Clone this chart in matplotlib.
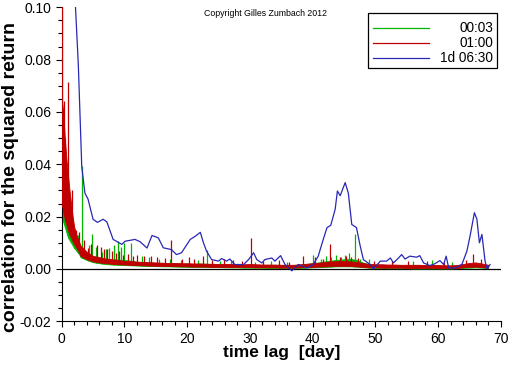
import numpy as np
import matplotlib

matplotlib.use("Agg")
import matplotlib.pyplot as plt
from matplotlib.patches import Rectangle
from matplotlib.ticker import FormatStrFormatter, MultipleLocator

plt.rcParams["font.family"] = ["Liberation Sans", "DejaVu Sans"]
plt.rcParams["axes.unicode_minus"] = False

# series labels and colours
labels = ["00:03", "01:00", "1d 06:30"]
colors = ["#00b400", "#c00000", "#2828b4"]

# the 00:03 and 01:00 curves are dense noise: kept as a low/high envelope
# (0.25 day steps up to 3 days, then 1 day) plus the spikes that stick out
env_lag = np.concatenate([np.arange(0, 3, 0.25), np.arange(3, 68.5, 1)])

green_high = [0.040, 0.036, 0.034, 0.030, 0.024, 0.020, 0.017, 0.015, 0.013, 0.012, 0.011, 0.0095,
              0.0085, 0.0060, 0.0047, 0.0042, 0.0038, 0.0037, 0.0036, 0.0034, 0.0032, 0.0027,
              0.0025, 0.0024, 0.0023, 0.0022, 0.0021, 0.0021, 0.0020, 0.0020, 0.0019, 0.0021,
              0.0020, 0.0018, 0.0017, 0.0017, 0.0017, 0.0016, 0.0016, 0.0016, 0.0015, 0.0015,
              0.0015, 0.0015, 0.0014, 0.0014, 0.0014, 0.0016, 0.0019, 0.0022, 0.0025, 0.0029,
              0.0032, 0.0035, 0.0037, 0.0038, 0.0035, 0.0025, 0.0018, 0.0016, 0.0016, 0.0015,
              0.0015, 0.0014, 0.0014, 0.0014, 0.0014, 0.0013, 0.0013, 0.0013, 0.0012, 0.0012,
              0.0013, 0.0015, 0.0017, 0.0017, 0.0015, 0.0013]
green_low = [0.020, 0.018, 0.016, 0.014, 0.012, 0.011, 0.010, 0.009, 0.008, 0.0072, 0.0065, 0.0058,
             0.0045, 0.0034, 0.0026, 0.0022, 0.0019, 0.0017, 0.0016, 0.0015, 0.0014, 0.0013,
             0.0012, 0.0011, 0.0011, 0.0010, 0.0010, 0.0009, 0.0009, 0.0008, 0.0008, 0.0008,
             0.0007, 0.0007, 0.0007, 0.0006, 0.0006, 0.0006, 0.0005, 0.0005, 0.0005, 0.0005,
             0.0004, 0.0004, 0.0004, 0.0004, 0.0004, 0.0004, 0.0005, 0.0006, 0.0007, 0.0008,
             0.0009, 0.0010, 0.0010, 0.0010, 0.0009, 0.0007, 0.0005, 0.0004, 0.0004, 0.0003,
             0.0003, 0.0003, 0.0003, 0.0002, 0.0002, 0.0002, 0.0002, 0.0002, 0.0002, 0.0002,
             0.0003, 0.0004, 0.0005, 0.0006, 0.0005, 0.0003]

red_high = [0.065, 0.060, 0.050, 0.042, 0.036, 0.030, 0.025, 0.020, 0.016, 0.014, 0.012, 0.0105,
            0.0090, 0.0065, 0.0050, 0.0045, 0.0040, 0.0037, 0.0034, 0.0031, 0.0030, 0.0028,
            0.0027, 0.0026, 0.0025, 0.0024, 0.0023, 0.0023, 0.0022, 0.0022, 0.0021, 0.0021,
            0.0020, 0.0020, 0.0019, 0.0019, 0.0019, 0.0018, 0.0018, 0.0019, 0.0018, 0.0017,
            0.0017, 0.0017, 0.0016, 0.0016, 0.0016, 0.0018, 0.0020, 0.0022, 0.0024, 0.0027,
            0.0029, 0.0030, 0.0030, 0.0029, 0.0027, 0.0023, 0.0019, 0.0018, 0.0018, 0.0017,
            0.0017, 0.0016, 0.0016, 0.0016, 0.0016, 0.0015, 0.0015, 0.0015, 0.0014, 0.0014,
            0.0015, 0.0019, 0.0023, 0.0025, 0.0021, 0.0016]
red_low = [0.025, 0.022, 0.019, 0.017, 0.015, 0.013, 0.012, 0.0105, 0.0095, 0.0085, 0.0075, 0.0065,
           0.0050, 0.0038, 0.0029, 0.0025, 0.0022, 0.0020, 0.0018, 0.0017, 0.0016, 0.0015,
           0.0014, 0.0013, 0.0012, 0.0012, 0.0011, 0.0011, 0.0010, 0.0010, 0.0009, 0.0009,
           0.0009, 0.0008, 0.0008, 0.0008, 0.0007, 0.0007, 0.0007, 0.0007, 0.0006, 0.0006,
           0.0006, 0.0006, 0.0005, 0.0005, 0.0005, 0.0006, 0.0007, 0.0008, 0.0009, 0.0010,
           0.0011, 0.0012, 0.0012, 0.0011, 0.0010, 0.0008, 0.0006, 0.0006, 0.0005, 0.0005,
           0.0005, 0.0005, 0.0004, 0.0004, 0.0004, 0.0004, 0.0004, 0.0003, 0.0003, 0.0003,
           0.0004, 0.0006, 0.0008, 0.0009, 0.0007, 0.0005]

green_spike_x = [2.0, 2.6, 3.2, 4.3, 4.9, 5.4, 6.4, 7.0, 7.6, 8.4, 8.9, 9.5, 10.0, 11.05,
                 12.8, 13.9, 15.5, 17.2, 19.0, 21.8, 23.1, 25.2, 27.0, 30.8, 33.3, 36.0,
                 40.0, 41.3, 42.2, 43.0, 43.7, 44.6, 45.2, 45.8, 46.8, 47.6, 49.0, 56.0,
                 59.0, 62.3]
green_spike_y = [0.016, 0.013, 0.0395, 0.009, 0.0132, 0.0085, 0.0065, 0.0075, 0.008, 0.0093,
                 0.0106, 0.0085, 0.010, 0.010, 0.005, 0.0045, 0.004, 0.004, 0.0035, 0.0036,
                 0.0074, 0.003, 0.003, 0.0028, 0.003, 0.0025, 0.0055, 0.004, 0.005, 0.0045,
                 0.0055, 0.0045, 0.0052, 0.006, 0.0132, 0.004, 0.004, 0.003, 0.0035, 0.0025]
red_spike_x = [0.05, 0.15, 0.35, 0.6, 1.05, 1.6, 2.3, 2.8, 3.6, 4.2, 4.7, 5.6, 6.2, 6.8,
               7.3, 8.1, 8.6, 9.1, 9.7, 10.6, 11.3, 12.0, 13.1, 14.2, 15.2, 16.4, 17.5,
               19.2, 20.3, 21.1, 22.6, 24.0, 25.8, 27.3, 28.8, 30.2, 32.1, 34.6, 36.2,
               38.5, 40.4, 41.6, 42.7, 44.3, 45.3, 46.1, 47.2, 49.8, 52.7, 55.2, 58.3,
               61.0, 64.4, 65.6, 66.8]
red_spike_y = [0.105, 0.061, 0.064, 0.050, 0.0715, 0.030, 0.015, 0.014, 0.011, 0.008,
               0.0095, 0.009, 0.0085, 0.0075, 0.0075, 0.0068, 0.0062, 0.007, 0.0055, 0.0058,
               0.005, 0.0055, 0.0048, 0.005, 0.0046, 0.0042, 0.0109, 0.004, 0.0045, 0.004,
               0.005, 0.0036, 0.004, 0.0035, 0.0032, 0.012, 0.0032, 0.0035, 0.0028, 0.0051,
               0.0045, 0.004, 0.0097, 0.0045, 0.005, 0.0046, 0.0042, 0.0032, 0.003, 0.003,
               0.003, 0.0028, 0.0035, 0.0059, 0.004]

blue_x = [1.8, 2.2, 2.65, 3.2, 3.7, 4.2, 5.0, 5.7, 6.6, 7.2,
          8.2, 9.6, 10.1, 11.7, 12.5, 13.6, 14.4, 15.4, 16.2, 17.5,
          18.3, 19.1, 20.5, 21.3, 22.1, 22.6, 23.1, 23.9, 25.0, 25.5,
          26.3, 26.8, 27.6, 29.0, 29.8, 30.6, 31.1, 31.9, 32.4, 33.5,
          34.0, 34.9, 35.6, 36.7, 37.7, 39.1, 40.1, 40.9, 41.7, 42.3,
          42.9, 43.6, 43.96, 44.4, 45.2, 45.7, 46.25, 47.0, 47.6, 48.1,
          49.2, 49.7, 50.8, 51.8, 52.4, 52.9, 53.7, 54.2, 54.75, 55.5,
          56.6, 57.1, 57.7, 58.7, 59.5, 60.3, 60.9, 61.3, 61.7, 62.7,
          63.8, 64.6, 65.1, 65.8, 66.2, 66.6, 67.0, 67.5, 67.8, 68.3]
blue_y = [0.13, 0.100, 0.078, 0.039, 0.029, 0.0267, 0.019, 0.0178, 0.019, 0.018,
          0.0113, 0.0094, 0.0106, 0.0113, 0.0104, 0.008, 0.0128, 0.0119, 0.0081, 0.0074,
          0.0055, 0.0062, 0.0113, 0.0125, 0.014, 0.010, 0.0068, 0.0036, 0.003, 0.004,
          0.003, 0.0038, 0.0017, 0.0017, 0.0036, 0.0062, 0.0036, 0.0023, 0.0036, 0.0042,
          0.003, 0.0051, 0.0017, -0.0007, 0.0017, 0.0004, 0.0017, 0.0049, 0.0113, 0.0158,
          0.0167, 0.0228, 0.0298, 0.028, 0.033, 0.029, 0.017, 0.0158, 0.0087, 0.0036,
          0.0017, 0.0, 0.003, 0.003, 0.0042, 0.0023, 0.0042, 0.0055, 0.0038, 0.0049,
          0.0045, 0.0051, 0.0023, 0.0013, 0.002, 0.0032, 0.0017, 0.0049, 0.0004, 0.0004,
          0.0017, 0.0068, 0.0125, 0.0215, 0.019, 0.010, 0.0132, 0.003, 0.0, 0.0017]

fig = plt.figure(figsize=(5.12, 3.66), dpi=100)
ax = fig.add_axes([0.1205, 0.1221, 0.8575, 0.858])

ax.axhline(0, color="black", lw=0.9, zorder=1)

ax.fill_between(env_lag, green_low, green_high, color=colors[0], lw=0.6, zorder=2)
ax.vlines(green_spike_x, np.interp(green_spike_x, env_lag, green_low), green_spike_y,
          color=colors[0], lw=0.9, zorder=2)
ax.fill_between(env_lag, red_low, red_high, color=colors[1], lw=0.6, zorder=3)
ax.vlines(red_spike_x, np.interp(red_spike_x, env_lag, red_low), red_spike_y,
          color=colors[1], lw=0.9, zorder=3)
ax.plot(blue_x, blue_y, color=colors[2], lw=0.9, zorder=4)

ax.set_xlim(0, 70)
ax.set_ylim(-0.02, 0.10)
ax.xaxis.set_major_locator(MultipleLocator(10))
ax.xaxis.set_minor_locator(MultipleLocator(2))
ax.yaxis.set_major_locator(MultipleLocator(0.02))
ax.yaxis.set_minor_locator(MultipleLocator(0.005))
ax.yaxis.set_major_formatter(FormatStrFormatter("%.2f"))
ax.tick_params(which="major", length=4.5, width=0.8, labelsize=10, pad=3)
ax.tick_params(which="minor", length=2.8, width=0.8)
for side in ("top", "right"):
    ax.spines[side].set_visible(False)

ax.set_xlabel("time lag  [day]", fontsize=12.5, fontweight="bold")
ax.set_ylabel("correlation for the squared return", fontsize=14, fontweight="bold")
ax.xaxis.set_label_coords(0.5, -0.075)
ax.yaxis.set_label_coords(-0.098, 0.458)

ax.text(0.465, 0.981, "Copyright Gilles Zumbach 2012", transform=ax.transAxes,
        fontsize=6.3, ha="center", va="center")

# hand-built legend box: handles on the left, labels right-aligned
ax.add_patch(Rectangle((0.698, 0.808), 0.294, 0.173, transform=ax.transAxes,
                       facecolor="white", edgecolor="black", lw=0.9, zorder=5))
for i, (lab, col) in enumerate(zip(labels, colors)):
    yy = 0.933 - i * 0.0475
    ax.plot([0.708, 0.837], [yy, yy], color=col, lw=0.9, transform=ax.transAxes,
            zorder=6, clip_on=False)
    ax.text(0.983, yy, lab, transform=ax.transAxes, fontsize=9.8, ha="right",
            va="center", zorder=6)

fig.savefig("out.png", dpi=100)
